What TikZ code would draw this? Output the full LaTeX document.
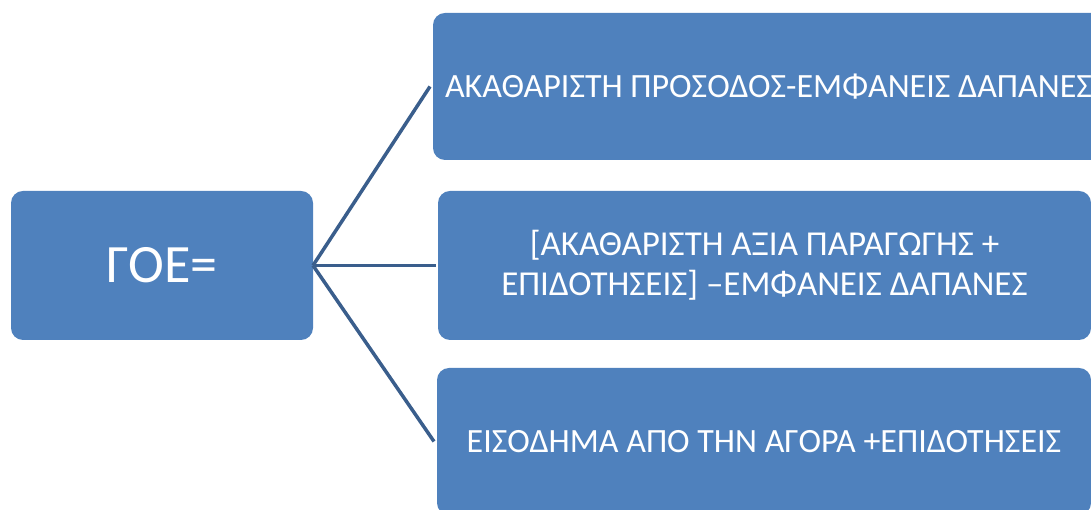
\documentclass[tikz,border=0pt]{standalone}
\usepackage{fontspec}
\setmainfont{Carlito}
\definecolor{fillColor}{RGB}{79,129,189}
\definecolor{drawColor}{RGB}{58,94,140}
\tikzset{
  box/.style={rectangle,rounded corners=12pt,fill=fillColor,text=white,
    inner sep=0pt,outer sep=0pt,align=center},
  link/.style={draw=drawColor,line width=3.5pt}
}
\begin{document}
\begin{tikzpicture}[x=1pt,y=1pt]
\path[use as bounding box] (0,0) rectangle (1091,510);
\clip (0,0) rectangle (1091,510);

\node[box,minimum width=302pt,minimum height=149pt,font=\fontsize{54}{64}\selectfont]
  (goe) at (162,244.5) {ΓΟΕ=};

\node[box,minimum width=671pt,minimum height=147pt,font=\fontsize{34}{41}\selectfont]
  (gross) at (768.5,423.5) {ΑΚΑΘΑΡΙΣΤΗ ΠΡΟΣΟΔΟΣ-ΕΜΦΑΝΕΙΣ ΔΑΠΑΝΕΣ};

\node[box,minimum width=653pt,minimum height=149pt,font=\fontsize{35}{40}\selectfont]
  (value) at (764.5,244.5) {[ΑΚΑΘΑΡΙΣΤΗ ΑΞΙΑ ΠΑΡΑΓΩΓΗΣ +\\ΕΠΙΔΟΤΗΣΕΙΣ] –ΕΜΦΑΝΕΙΣ ΔΑΠΑΝΕΣ};

\node[box,minimum width=654pt,minimum height=147pt,font=\fontsize{34}{41}\selectfont]
  (income) at (764,68.5) {ΕΙΣΟΔΗΜΑ ΑΠΌ ΤΗΝ ΑΓΟΡΑ +ΕΠΙΔΟΤΗΣΕΙΣ};

\draw[link] (goe.east) -- ([xshift=-3pt]gross.west);
\draw[link] (goe.east) -- ([xshift=-2pt]value.west);
\draw[link] (goe.east) -- ([xshift=-3pt]income.west);
\end{tikzpicture}
\end{document}
